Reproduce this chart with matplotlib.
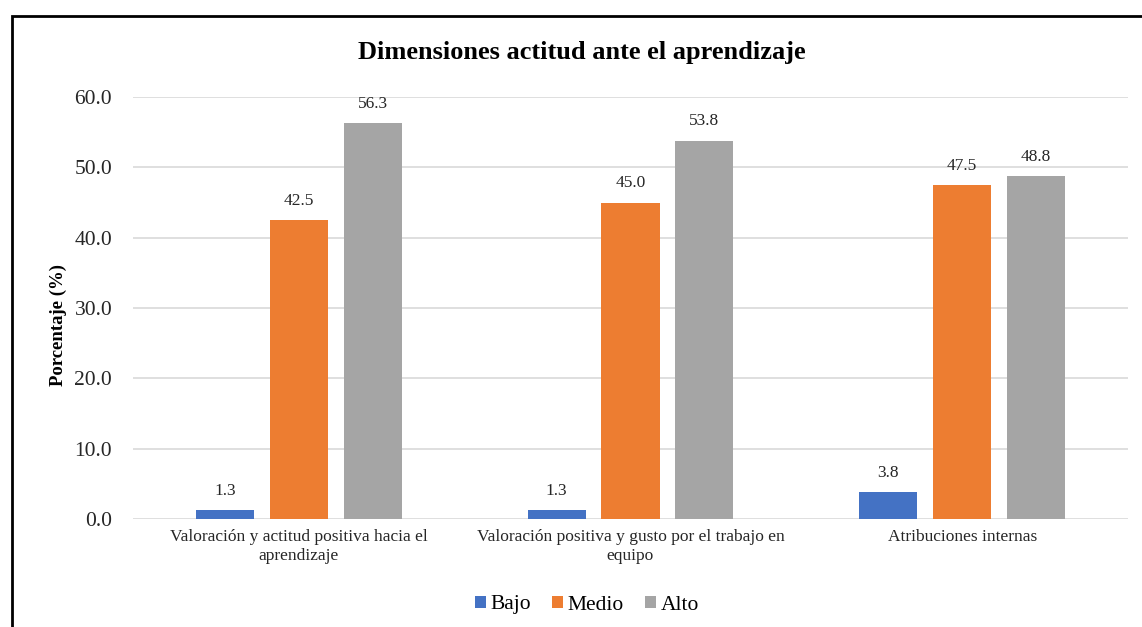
import numpy as np
import matplotlib.pyplot as plt
from matplotlib.patches import Rectangle

# Datos
categorias = ['Valoración y actitud positiva hacia el\naprendizaje',
              'Valoración positiva y gusto por el trabajo en\nequipo',
              'Atribuciones internas']
bajo = [1.3, 1.3, 3.8]
medio = [42.5, 45.0, 47.5]
alto = [56.3, 53.8, 48.8]
series = ['Bajo', 'Medio', 'Alto']
colores = ['#4472C4', '#ED7D31', '#A5A5A5']

plt.rcParams['font.family'] = ['Liberation Serif', 'DejaVu Serif']

fig = plt.figure(figsize=(11.42, 6.27), dpi=100)
ax = fig.add_axes([0.1165, 0.1722, 0.8712, 0.6731])

x = np.arange(len(categorias))
ancho = 0.175
paso = 0.223
for i, (valores, nombre, color) in enumerate(zip([bajo, medio, alto], series, colores)):
    barras = ax.bar(x + (i - 1) * paso, valores, ancho, color=color, label=nombre, zorder=3)
    for b, v in zip(barras, valores):
        ax.annotate(f'{v:.1f}', (b.get_x() + b.get_width() / 2, v), textcoords='offset points',
                    xytext=(0, 8), ha='center', va='bottom', fontsize=12.5, color='#262626')

ax.set_xlim(-0.5, 2.5)
ax.set_ylim(0, 60)
ax.set_yticks(np.arange(0, 61, 10))
ax.set_yticklabels([f'{t:.1f}' for t in np.arange(0, 61, 10)], fontsize=15.5, color='#262626')
ax.set_xticks(x)
ax.set_xticklabels(categorias, fontsize=12.5, color='#262626', linespacing=1.3)
ax.tick_params(length=0, pad=7)
ax.tick_params(axis='y', pad=15)
ax.grid(axis='y', color='#D9D9D9', linewidth=1.2, zorder=0)
for s in ax.spines.values():
    s.set_visible(False)

fig.text(58 / 1142, 1 - 325 / 627, 'Porcentaje (%)', rotation=90, ha='center', va='center',
         fontsize=13.5, fontweight='bold')
fig.text(582 / 1142, 1 - 52 / 627, 'Dimensiones actitud ante el aprendizaje', ha='center', va='center',
         fontsize=19, fontweight='bold')

fig.legend(loc='center', bbox_to_anchor=(587 / 1142, 1 - 605 / 627), ncol=3, frameon=False, fontsize=15.5,
           handlelength=0.5, handleheight=0.5, handletextpad=0.2, columnspacing=1.0)

# Marco
fig.patches.append(Rectangle((11.5 / 1142, -0.1), 1.2, 1 - 15.5 / 627 + 0.1, transform=fig.transFigure,
                             fill=False, edgecolor='black', linewidth=2))

fig.savefig('out.png', dpi=100)
